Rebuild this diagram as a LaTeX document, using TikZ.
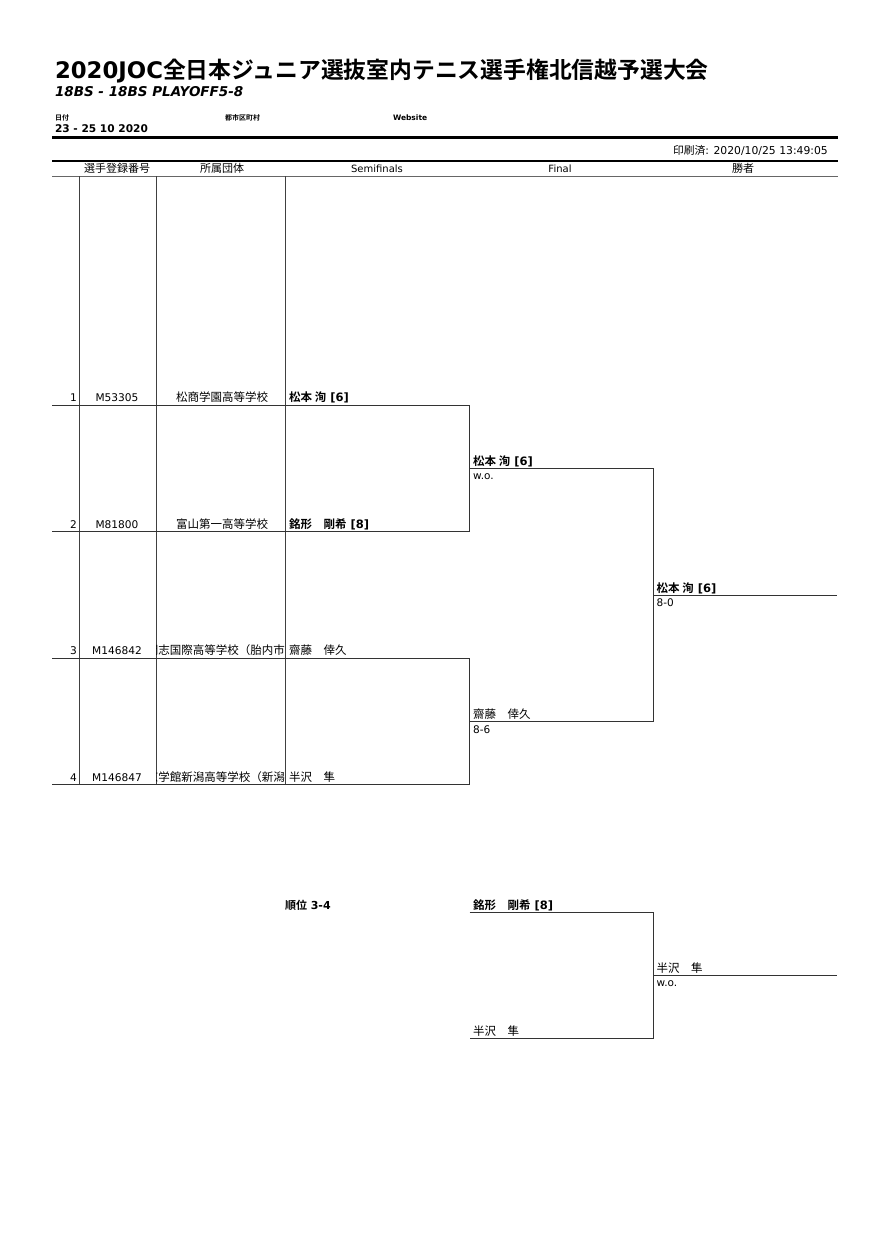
\documentclass[tikz,border=0pt]{standalone}
\usepackage{fontspec}
\setmainfont{DejaVu Sans}
\newfontfamily\jp[BoldFont={Noto Sans CJK JP Bold}]{Noto Sans CJK JP}
\newcommand\J[1]{{\jp #1}}
\tikzset{
  lbl/.style={anchor=base west, inner sep=0pt, outer sep=0pt},
  hdr/.style={anchor=base, inner sep=0pt, font=\fontsize{10}{12}\selectfont},
  cell/.style={anchor=base, inner sep=0pt, font=\fontsize{10.6}{12}\selectfont},
  cj/.style={inner sep=0pt, font=\jp\fontsize{11.5}{13}\selectfont},
  pname/.style={anchor=base west, inner sep=0pt, font=\fontsize{11.5}{13}\selectfont},
  score/.style={anchor=base west, inner sep=0pt, font=\fontsize{10.5}{12}\selectfont},
  rule/.style={line width=0.9pt, draw=black!80},
  grid/.style={line width=0.8pt, draw=black!75},
}
\begin{document}
\begin{tikzpicture}[x=1pt,y=-1pt]
\fill[white] (0,0) rectangle (890,1258);
\useasboundingbox (0,0) rectangle (890,1258);

% ---- heading
\node[lbl, font=\bfseries\fontsize{22.8}{27}\selectfont] (title) at (55,78)
  {2020JOC\J{全日本ジュニア選抜室内テニス選手権北信越予選大会}};
\node[lbl, font=\bfseries\itshape\fontsize{13.5}{15}\selectfont] (sub) at (55,96.5) {18BS - 18BS PLAYOFF5-8};
\node[lbl, font=\jp\bfseries\fontsize{7}{8}\selectfont] (datel) at (55,120.5) {日付};
\node[lbl, font=\jp\bfseries\fontsize{7}{8}\selectfont] (cityl) at (225,120.5) {都市区町村};
\node[lbl, font=\bfseries\fontsize{7.5}{8}\selectfont] (webl) at (393,120.5) {Website};
\node[lbl, font=\bfseries\fontsize{10.6}{12}\selectfont] (date) at (55,132.5) {23 - 25 10 2020};

\coordinate (hl1a) at (52,137.5); \coordinate (hl1b) at (837.5,137.5);
\draw[line width=2.2pt] (hl1a) -- (hl1b);
\node[anchor=base east, inner sep=0pt, font=\fontsize{10.8}{12}\selectfont] (printed) at (828,154)
  {\J{印刷済}: 2020/10/25 13:49:05};
\coordinate (hl2a) at (52,161); \coordinate (hl2b) at (837.5,161);
\draw[line width=1.4pt] (hl2a) -- (hl2b);
\node[hdr, font=\jp\fontsize{11}{12}\selectfont] (h1) at (117,172.5) {選手登録番号};
\node[hdr, font=\jp\fontsize{11}{12}\selectfont] (h2) at (222,172.5) {所属団体};
\node[hdr] (h3) at (377,172.5) {Semifinals};
\node[hdr] (h4) at (560,172.5) {Final};
\node[hdr, font=\jp\fontsize{11}{12}\selectfont] (h5) at (743,172.5) {勝者};
\coordinate (hl3a) at (52,176); \coordinate (hl3b) at (837.5,176);
\draw[line width=1pt, draw=black!60] (hl3a) -- (hl3b);

% ---- column lines
\coordinate (c1t) at (79.5,176); \coordinate (c1b) at (79.5,785);
\coordinate (c2t) at (156,176); \coordinate (c2b) at (156,785);
\coordinate (c3t) at (285.5,176); \coordinate (c3b) at (285.5,785);
\draw[grid] (c1t) -- (c1b) (c2t) -- (c2b) (c3t) -- (c3b);

% ---- semifinal rows
\coordinate (r1a) at (52,405); \coordinate (r1b) at (469.5,405);
\coordinate (r2a) at (52,531.5); \coordinate (r2b) at (469.5,531.5);
\coordinate (r3a) at (52,658); \coordinate (r3b) at (469.5,658);
\coordinate (r4a) at (52,784.5); \coordinate (r4b) at (469.5,784.5);
\draw[rule] (r1a) -- (r1b) -- (r2b) -- (r2a);
\draw[rule] (r3a) -- (r3b) -- (r4b) -- (r4a);

\node[cell, anchor=base east] (n1) at (77,401.5) {1};
\node[cell] (id1) at (117,401.5) {M53305};
\node[cj, anchor=base] (s1) at (222,401.5) {松商学園高等学校};
\node[pname] (p1) at (289,401.5) {\bfseries\J{松本 洵} [6]};

\node[cell, anchor=base east] (n2) at (77,528) {2};
\node[cell] (id2) at (117,528) {M81800};
\node[cj, anchor=base] (s2) at (222,528) {富山第一高等学校};
\node[pname] (p2) at (289,528) {\bfseries\J{銘形　剛希} [8]};

\node[cell, anchor=base east] (n3) at (77,654.5) {3};
\node[cell] (id3) at (117,654.5) {M146842};
\begin{scope}
\clip (156.6,640) rectangle (284.8,662);
\node[cj, anchor=base east] (s3) at (285,654.5) {開志国際高等学校（胎内市};
\end{scope}
\node[pname] (p3) at (289,654.5) {\J{齋藤　倖久}};

\node[cell, anchor=base east] (n4) at (77,781) {4};
\node[cell] (id4) at (117,781) {M146847};
\begin{scope}
\clip (156.6,766) rectangle (284.8,789);
\node[cj, anchor=base east] (s4) at (285,781) {京学館新潟高等学校（新潟};
\end{scope}
\node[pname] (p4) at (289,781) {\J{半沢　隼}};

% ---- final
\coordinate (f1a) at (469.5,468); \coordinate (f1b) at (653,468);
\coordinate (f2a) at (469.5,721.5); \coordinate (f2b) at (653,721.5);
\draw[rule] (f1a) -- (f1b) -- (f2b) -- (f2a);
\node[pname] (fp1) at (473,465) {\bfseries\J{松本 洵} [6]};
\node[score] (fs1) at (473,479.5) {w.o.};
\node[pname] (fp2) at (473,718.5) {\J{齋藤　倖久}};
\node[score] (fs2) at (473,733) {8-6};

% ---- winner
\coordinate (wa) at (653,595); \coordinate (wb) at (837,595);
\draw[rule] (wa) -- (wb);
\node[pname] (wp) at (656.5,592) {\bfseries\J{松本 洵} [6]};
\node[score] (ws) at (656.5,606.5) {8-0};

% ---- 3-4 playoff
\node[lbl, font=\bfseries\fontsize{11}{12}\selectfont] (pl) at (285,909) {\J{順位} 3-4};
\coordinate (t1a) at (469.5,912); \coordinate (t1b) at (653,912);
\coordinate (t2a) at (469.5,1038); \coordinate (t2b) at (653,1038);
\draw[rule] (t1a) -- (t1b) -- (t2b) -- (t2a);
\node[pname] (tp1) at (473,909) {\bfseries\J{銘形　剛希} [8]};
\node[pname] (tp2) at (473,1035) {\J{半沢　隼}};
\coordinate (twa) at (653,975); \coordinate (twb) at (837,975);
\draw[rule] (twa) -- (twb);
\node[pname] (twp) at (656.5,972) {\J{半沢　隼}};
\node[score] (tws) at (656.5,986.5) {w.o.};
\end{tikzpicture}
\end{document}
